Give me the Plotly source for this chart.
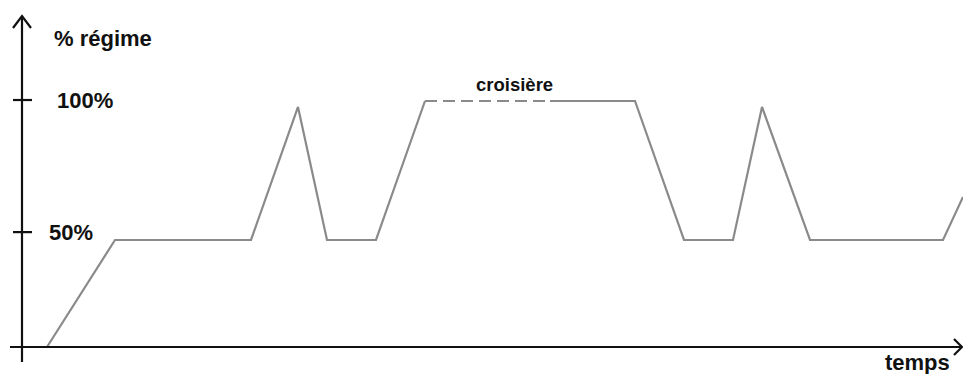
import plotly.graph_objects as go

# ---- data (time in arbitrary units, engine regime in %) ----
temps = [2.5, 9.3, 22.9, 27.6, 30.5, 35.4, 40.3, 52.8, 61.3, 66.2, 71.1, 74.0, 78.8, 92.1, 94.1]
regime = [0, 43.5, 43.5, 97.6, 43.5, 43.5, 100, 100, 100, 43.5, 43.5, 97.6, 43.5, 43.5, 61.0]
cruise_start_idx = 6   # dashed "croisière" part begins here
cruise_end_idx = 7     # and ends here

tick_values = [46.7, 100.4]
tick_labels = ["50%", "100%"]

y_title = "% régime"
x_title = "temps"
cruise_label = "croisière"

# ---- layout geometry ----
W, H = 963, 374
X0_PX, X_SCALE = 22, 10.0      # px of t=0, px per time unit
Y0_PX, Y_SCALE = 347, 2.46     # px of 0 %, px per percent


def px2x(px):
    return (px - X0_PX) / X_SCALE


def py2y(py):
    return (Y0_PX - py) / Y_SCALE


LINE_COLOR = "#8a8a8a"
AXIS_COLOR = "#111111"
FONT = "Liberation Sans, Arial, sans-serif"

fig = go.Figure()

solid_x = temps[:cruise_start_idx + 1] + [None] + temps[cruise_end_idx:]
solid_y = regime[:cruise_start_idx + 1] + [None] + regime[cruise_end_idx:]
fig.add_trace(go.Scatter(x=solid_x, y=solid_y, mode="lines",
                         line=dict(color=LINE_COLOR, width=2.2),
                         connectgaps=False, hoverinfo="skip"))
fig.add_trace(go.Scatter(x=temps[cruise_start_idx:cruise_end_idx + 1],
                         y=regime[cruise_start_idx:cruise_end_idx + 1],
                         mode="lines",
                         line=dict(color=LINE_COLOR, width=2.2, dash="12px,6px"),
                         hoverinfo="skip"))

shapes = []
# axes
shapes.append(dict(type="line", xref="x", yref="y", x0=px2x(10), x1=px2x(962),
                   y0=0, y1=0, line=dict(color=AXIS_COLOR, width=2.2)))
shapes.append(dict(type="line", xref="x", yref="y", x0=0, x1=0,
                   y0=py2y(362), y1=py2y(16), line=dict(color=AXIS_COLOR, width=2.2)))


# arrowheads (open chevrons)
def chevron(points):
    d = "M " + " L ".join(f"{px2x(a)},{py2y(b)}" for a, b in points)
    return dict(type="path", xref="x", yref="y", path=d,
                line=dict(color=AXIS_COLOR, width=2.2))


shapes.append(chevron([(13, 28), (22, 16), (31, 28)]))
shapes.append(chevron([(954, 339), (962, 347), (954, 355)]))
# tick marks
for tv in tick_values:
    shapes.append(dict(type="line", xref="x", yref="y", x0=px2x(13), x1=px2x(32),
                       y0=tv, y1=tv, line=dict(color=AXIS_COLOR, width=2.2)))

annotations = [
    dict(text=f"<b>{y_title}</b>", x=px2x(52), y=py2y(38), xanchor="left", yanchor="middle",
         font=dict(size=22, family=FONT, color="#111")),
    dict(text=f"<b>{x_title}</b>", x=px2x(883), y=py2y(362), xanchor="left", yanchor="middle",
         font=dict(size=22, family=FONT, color="#111")),
    dict(text=f"<b>{cruise_label}</b>", x=px2x(514), y=py2y(84), xanchor="center", yanchor="middle",
         font=dict(size=18.5, family=FONT, color="#111")),
]
label_left_px = [47, 55]
for tv, tl, lx in zip(tick_values, tick_labels, label_left_px):
    annotations.append(dict(text=f"<b>{tl}</b>", x=px2x(lx), y=tv, xanchor="left", yanchor="middle",
                            font=dict(size=22, family=FONT, color="#111")))
for a in annotations:
    a.update(showarrow=False, xref="x", yref="y")

fig.update_layout(
    width=W, height=H, margin=dict(l=0, r=0, t=0, b=0),
    paper_bgcolor="white", plot_bgcolor="white", showlegend=False,
    xaxis=dict(range=[px2x(0), px2x(W)], visible=False, fixedrange=True),
    yaxis=dict(range=[py2y(H), py2y(0)], visible=False, fixedrange=True),
    shapes=shapes, annotations=annotations,
)
fig.write_html(
    "out.html",
    config={"displayModeBar": False},
    post_script="document.body.style.margin='0';document.body.style.overflow='hidden';",
)
